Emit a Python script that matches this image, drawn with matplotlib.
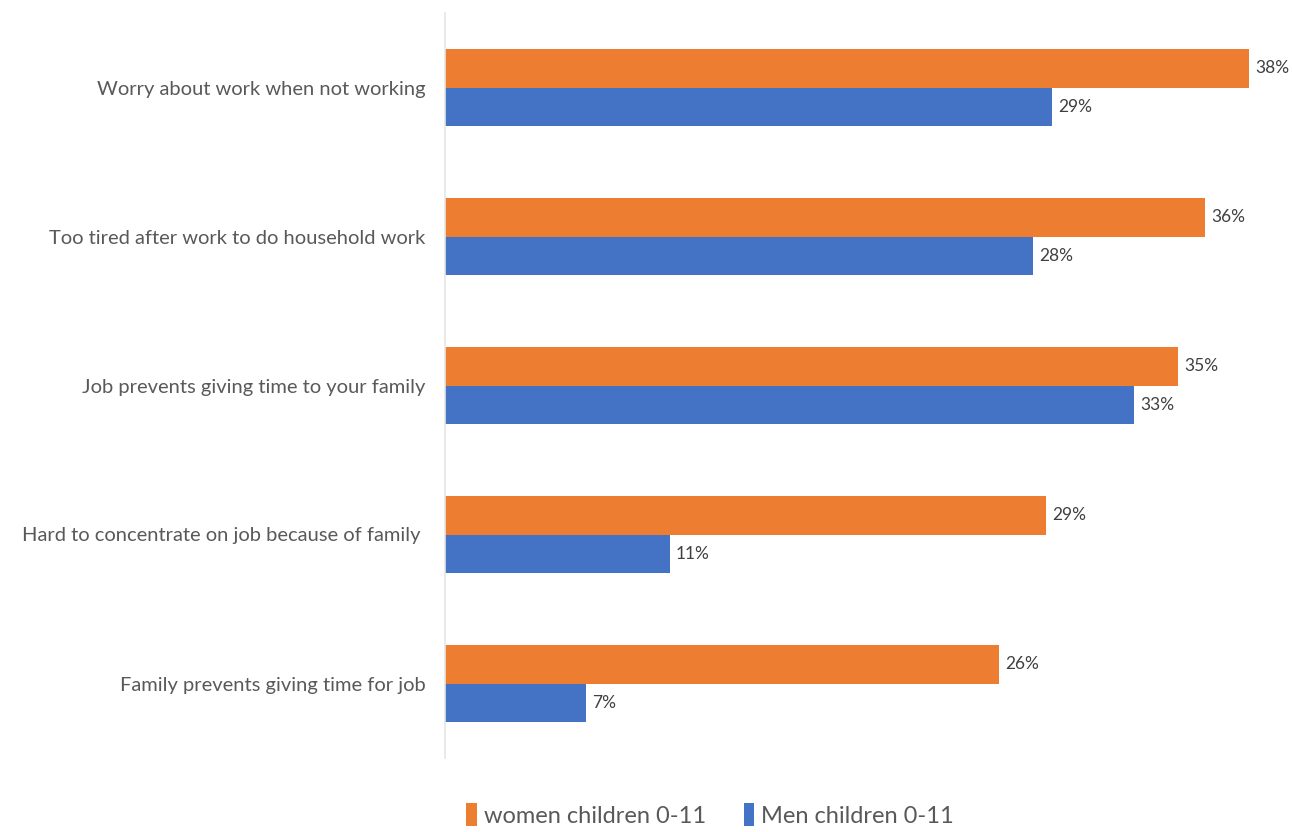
import numpy as np
import matplotlib
matplotlib.use('Agg')
import matplotlib.pyplot as plt

plt.rcParams['font.family'] = ['Lato', 'DejaVu Sans']

categories = ['Worry about work when not working',
              'Too tired after work to do household work',
              'Job prevents giving time to your family',
              'Hard to concentrate on job because of family ',
              'Family prevents giving time for job']
women = [38.3, 36.2, 34.9, 28.6, 26.4]
men = [28.9, 28.0, 32.8, 10.7, 6.7]

orange = '#ED7D31'
blue = '#4472C4'
text_col = '#595959'

fig = plt.figure(figsize=(12.92, 8.32), dpi=100)
ax = fig.add_axes([445/1292, 74/832, 840/1292, 745/832])

y = np.arange(len(categories))
h = 0.26
ax.barh(y - h/2, women, height=h, color=orange, label='women children 0-11')
ax.barh(y + h/2, men, height=h, color=blue, label='Men children 0-11')

for yi, v in zip(y, women):
    ax.text(v + 0.3, yi - h/2, f'{v:.0f}%', va='center', ha='left', fontsize=12.5, color='#404040')
for yi, v in zip(y, men):
    ax.text(v + 0.3, yi + h/2, f'{v:.0f}%', va='center', ha='left', fontsize=12.5, color='#404040')

ax.set_xlim(0, 40)
ax.set_ylim(4.5, -0.5)
ax.set_yticks(y)
ax.set_yticklabels(categories, fontsize=14.5, color=text_col)
ax.tick_params(axis='y', length=0, pad=14)
ax.set_xticks([])
for s in ['top', 'right', 'bottom']:
    ax.spines[s].set_visible(False)
ax.spines['left'].set_color('#e6e6e6')
ax.spines['left'].set_linewidth(1.2)

fig.legend(loc='center', bbox_to_anchor=(710/1292, 1 - 815/832), ncol=2, frameon=False,
           fontsize=17, labelcolor=text_col, handlelength=0.45, handleheight=1.1,
           handletextpad=0.3, columnspacing=1.6)

fig.savefig('out.png', dpi=100)
